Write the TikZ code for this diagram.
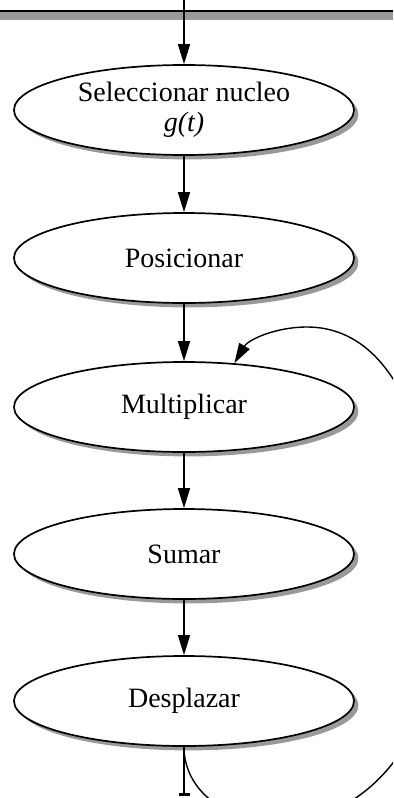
\documentclass[tikz,border=0pt]{standalone}
\usepackage{fontspec}
\setmainfont{Liberation Serif}
\usetikzlibrary{shapes.geometric,shadows,arrows.meta}

\begin{document}
\begin{tikzpicture}[x=0.5pt,y=-0.5pt,
    paso/.style={ellipse,draw,line width=0.85pt,fill=white,
      minimum width=170pt,minimum height=45pt,inner sep=0pt,align=center,
      font=\fontsize{14}{15}\selectfont,
      drop shadow={shadow xshift=2.2pt,shadow yshift=-2.2pt,fill=black!40,opacity=1}},
    flecha/.style={line width=0.7pt,-{Triangle[length=10pt,width=6pt]}}]
    \useasboundingbox (0,0) rectangle (393,798);
    \clip (0,0) rectangle (393,798);

      % Bar
      \fill[black!40] (0,12) rectangle (393,20);
      \draw[line width=1pt] (0,11) -- (393,11);
      \coordinate (inicio) at (184,0);

      % Steps
      \node[paso] (sel) at (184,110) {Seleccionar nucleo\\\textit{g(t)}};
      \node[paso] (pos) at (184,258) {Posicionar};
      \node[paso] (mult) at (184,407) {Multiplicar};
      \node[paso] (suma) at (184,554) {Sumar};
      \node[paso] (desp) at (184,701) {Desplazar};
      \coordinate (fin) at (184,796);

      % Flow
      \draw[flecha] (inicio) -- (sel.north);
      \draw[flecha] (sel.south) -- (pos.north);
      \draw[flecha] (pos.south) -- (mult.north);
      \draw[flecha] (mult.south) -- (suma.north);
      \draw[flecha] (suma.south) -- (desp.north);
      \draw[line width=0.7pt,-{Bar[width=5.5pt,line width=1.5pt]}] (desp.south) -- (fin);

      % Loop
      \draw[flecha] (desp.south) .. controls (184,790) and (225,822) .. (280,822)
        .. controls (350,822) and (440,760) .. (440,600)
        .. controls (440,440) and (395,327) .. (307,327)
        .. controls (275,327) and (248,340) .. (mult.41);
  \end{tikzpicture}
\end{document}
